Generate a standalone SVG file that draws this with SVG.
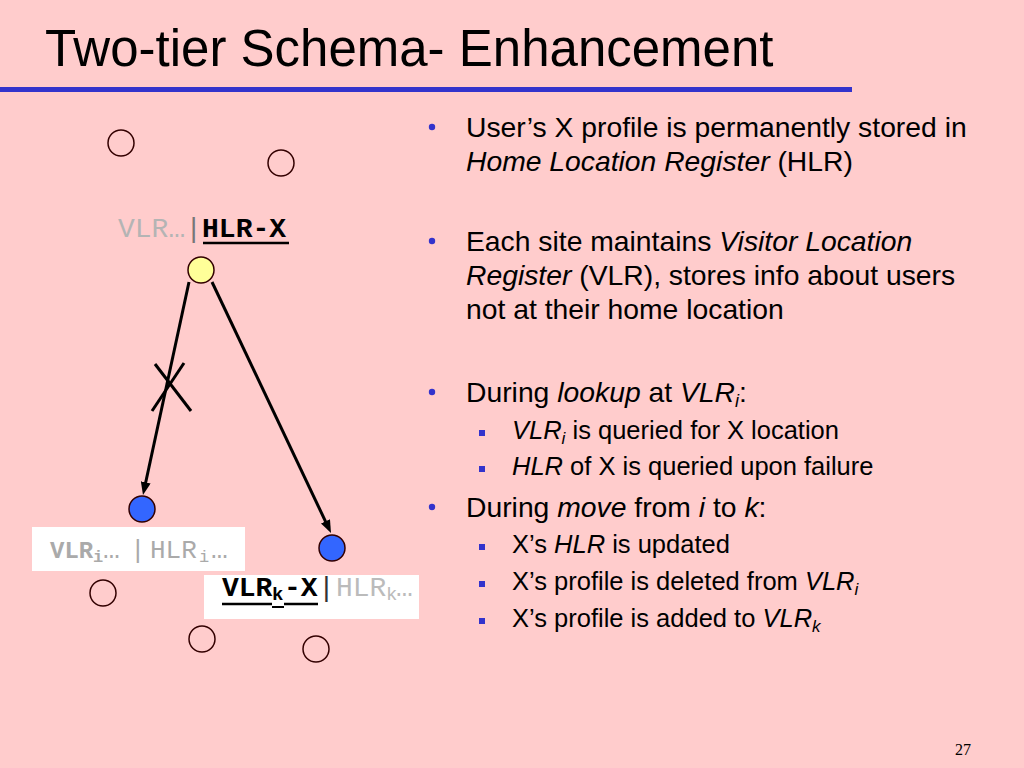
<svg xmlns="http://www.w3.org/2000/svg" width="1024" height="768" viewBox="0 0 1024 768">
<defs>
<style>
.sans{font-family:"Liberation Sans",Arial,sans-serif;fill:#000}
.mono{font-family:"Liberation Mono","Courier New",monospace}
.title{font-size:51px}
.b1{font-size:28.3px}
.b2{font-size:25.5px}
.dot{fill:#3333CC}
.site{fill:none;stroke:#330000;stroke-width:1.5}
.node{stroke:#330000;stroke-width:1.5}
.conn{stroke:#000;stroke-width:3;fill:none}
.gray{fill:#B4B4B4}
.box{fill:#FFFFFF}
</style>
<marker id="ah" markerUnits="userSpaceOnUse" viewBox="0 0 13 10" markerWidth="13" markerHeight="10" refX="2" refY="5" orient="auto">
<path d="M0,0 L13,5 L0,10 z" fill="#000"/>
</marker>
</defs>
<rect x="0" y="0" width="1024" height="768" fill="#FFCCCC"/>
<text class="sans title" x="45" y="66">Two-tier Schema- Enhancement</text>
<rect x="0" y="87" width="852" height="5" fill="#3333CC"/>

<g id="bullets">
<circle class="dot" cx="432" cy="127" r="3.2"/>
<text class="sans b1" x="466" y="137">User’s X profile is permanently stored in</text>
<text class="sans b1" x="466" y="171"><tspan font-style="italic">Home Location Register</tspan> (HLR)</text>
<circle class="dot" cx="432" cy="241" r="3.2"/>
<text class="sans b1" x="466" y="251">Each site maintains <tspan font-style="italic">Visitor Location</tspan></text>
<text class="sans b1" x="466" y="285"><tspan font-style="italic">Register</tspan> (VLR), stores info about users</text>
<text class="sans b1" x="466" y="319">not at their home location</text>
<circle class="dot" cx="432" cy="392" r="3.2"/>
<text class="sans b1" x="466" y="402">During <tspan font-style="italic">lookup</tspan> at <tspan font-style="italic">VLR</tspan><tspan font-style="italic" font-size="18" dy="5">i</tspan><tspan dy="-5">:</tspan></text>
<rect class="dot" x="479" y="430" width="6" height="6"/>
<text class="sans b2" x="512" y="439"><tspan font-style="italic">VLR</tspan><tspan font-style="italic" font-size="17" dy="5">i</tspan><tspan dy="-5"> is queried for X location</tspan></text>
<rect class="dot" x="479" y="466" width="6" height="6"/>
<text class="sans b2" x="512" y="475"><tspan font-style="italic">HLR</tspan> of X is queried upon failure</text>
<circle class="dot" cx="432" cy="507" r="3.2"/>
<text class="sans b1" x="466" y="517">During <tspan font-style="italic">move</tspan> from <tspan font-style="italic">i</tspan> to <tspan font-style="italic">k</tspan>:</text>
<rect class="dot" x="479" y="544" width="6" height="6"/>
<text class="sans b2" x="512" y="553">X’s <tspan font-style="italic">HLR</tspan> is updated</text>
<rect class="dot" x="479" y="581" width="6" height="6"/>
<text class="sans b2" x="512" y="590">X’s profile is deleted from <tspan font-style="italic">VLR</tspan><tspan font-style="italic" font-size="17" dy="5">i</tspan></text>
<rect class="dot" x="479" y="618" width="6" height="6"/>
<text class="sans b2" x="512" y="627">X’s profile is added to <tspan font-style="italic">VLR</tspan><tspan font-style="italic" font-size="17" dy="5">k</tspan></text>
</g>

<g id="connectors">
<line class="conn" x1="189" y1="282" x2="145.3" y2="484.3" marker-end="url(#ah)"/>
<line class="conn" x1="212" y1="282" x2="326.3" y2="523.1" marker-end="url(#ah)"/>
<line class="conn" x1="155" y1="364" x2="191" y2="411"/>
<line class="conn" x1="184" y1="363" x2="152" y2="411"/>
</g>

<g id="site-1"><circle class="site" cx="121" cy="143" r="13"/></g>
<g id="site-2"><circle class="site" cx="281" cy="163" r="13"/></g>
<g id="site-3"><circle class="site" cx="103" cy="593" r="13"/></g>
<g id="site-4"><circle class="site" cx="202" cy="639" r="13"/></g>
<g id="site-5"><circle class="site" cx="316" cy="649" r="13"/></g>

<g id="home">
<circle class="node" cx="201" cy="270" r="13" fill="#FFFF99"/>
<text class="mono" x="118" y="237" font-size="28"><tspan class="gray">VLR…</tspan><tspan fill="#777777">|</tspan><tspan font-weight="bold" fill="#000">HLR-X</tspan></text>
<line x1="203" y1="243" x2="289" y2="243" stroke="#000" stroke-width="2.5"/>
</g>

<g id="vlr-i">
<circle class="node" cx="142" cy="509" r="13" fill="#3366FF"/>
<rect class="box" x="32" y="527" width="213" height="44"/>
<text class="mono" y="558" fill="#AAAAAA"><tspan x="50" font-size="24" font-weight="bold">VLR</tspan><tspan x="93" dy="4" font-size="17" font-weight="bold">i</tspan><tspan x="103" dy="-4" font-size="28">…</tspan><tspan x="130" font-size="26">|</tspan><tspan x="150" font-size="26">HLR</tspan><tspan x="199" dy="4" font-size="17">i</tspan><tspan x="211" dy="-4" font-size="28">…</tspan></text>
</g>

<g id="vlr-k">
<circle class="node" cx="332" cy="548" r="13" fill="#3366FF"/>
<rect class="box" x="204" y="575" width="215" height="44"/>
<text class="mono" y="596"><tspan x="222" font-size="28" font-weight="bold" fill="#000">VLR</tspan><tspan x="272" dy="4" font-size="19" font-weight="bold" fill="#000">k</tspan><tspan x="284" dy="-4" font-size="28" font-weight="bold" fill="#000">-X</tspan><tspan x="318" font-size="28" fill="#333333">|</tspan><tspan x="336" font-size="28" fill="#BBBBBB">HLR</tspan><tspan x="386" dy="4" font-size="19" fill="#BBBBBB">k</tspan><tspan x="396" dy="-4" font-size="28" fill="#BBBBBB">…</tspan></text>
<path d="M222,604 H272 M284,604 H318" stroke="#000" stroke-width="2.5"/>
<line x1="272" y1="607" x2="284" y2="607" stroke="#000" stroke-width="2"/>
</g>

<text x="963" y="755" font-family="'Liberation Serif',serif" font-size="16" text-anchor="middle" fill="#000">27</text>
</svg>
